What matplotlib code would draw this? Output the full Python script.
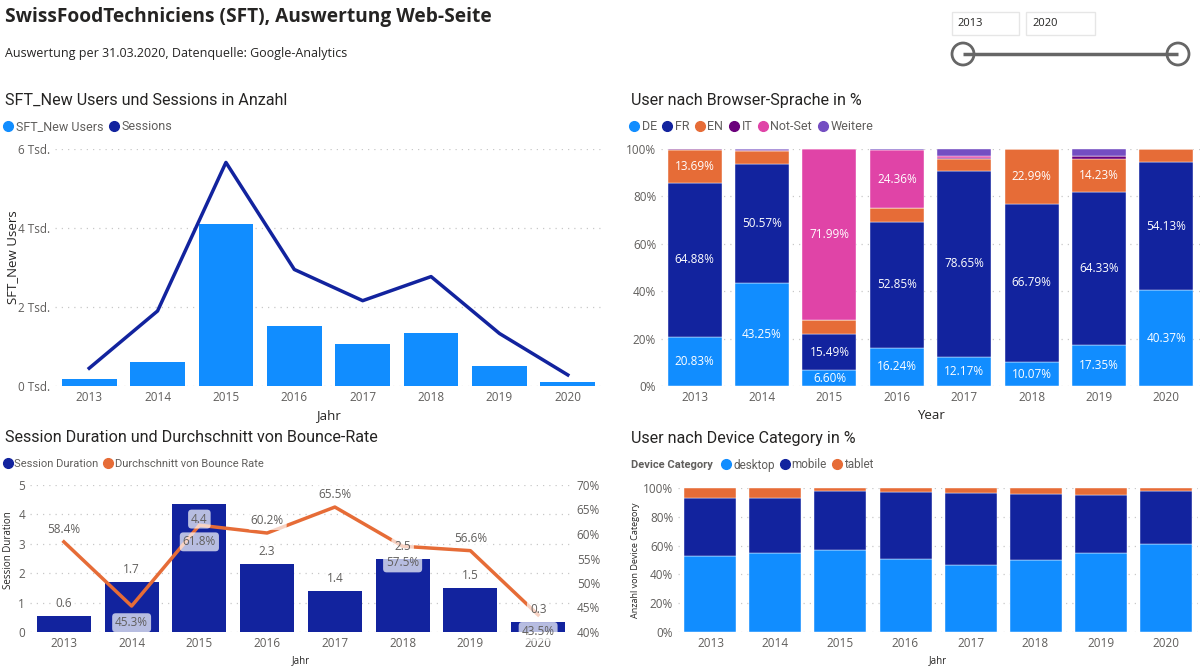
import matplotlib.pyplot as plt
from matplotlib.lines import Line2D
from matplotlib.patches import Rectangle, Circle
import numpy as np

# --- Daten ---
jahre = ['2013', '2014', '2015', '2016', '2017', '2018', '2019', '2020']

new_users = [170, 615, 4090, 1530, 1060, 1330, 510, 110]
sessions = [450, 1900, 5660, 2950, 2160, 2770, 1330, 280]

sprachen = ['DE', 'FR', 'EN', 'IT', 'Not-Set', 'Weitere']
de = [20.83, 43.25, 6.60, 16.24, 12.17, 10.07, 17.35, 40.37]
fr = [64.88, 50.57, 15.49, 52.85, 78.65, 66.79, 64.33, 54.13]
en = [13.69, 5.30, 5.92, 6.00, 4.80, 22.99, 14.23, 5.50]
it = [0.40, 0.50, 0.00, 0.00, 0.40, 0.10, 1.30, 0.00]
not_set = [0.00, 0.00, 71.99, 24.36, 1.20, 0.00, 0.00, 0.00]
weitere = [0.20, 0.38, 0.00, 0.55, 2.78, 0.05, 2.79, 0.00]

session_duration = [0.56, 1.69, 4.36, 2.30, 1.39, 2.47, 1.50, 0.33]
bounce_rate = [58.4, 45.3, 61.8, 60.2, 65.5, 57.5, 56.6, 43.5]

devices = ['desktop', 'mobile', 'tablet']
desktop = [53.1, 54.9, 56.8, 50.8, 46.2, 49.7, 55.2, 60.9]
mobile = [40.2, 38.4, 41.1, 46.7, 50.4, 46.2, 39.7, 36.8]
tablet = [6.7, 6.7, 2.1, 2.5, 3.4, 4.1, 5.1, 2.3]

# Power BI Farben
C_HELL = '#118DFF'
C_DUNKEL = '#12239E'
C_ORANGE = '#E66C37'
C_IT = '#6B007B'
C_PINK = '#E044A7'
C_LILA = '#744EC2'
C_TEXT = '#252423'
C_TICK = '#605E5C'

plt.rcParams['font.family'] = ['Open Sans', 'DejaVu Sans']
TITEL_FONT = ['Roboto', 'DejaVu Sans']

W, H = 1200, 670
fig = plt.figure(figsize=(12, 6.7), dpi=100)
fig.patch.set_facecolor('white')


def px_axes(x0, y0, x1, y1):
    return fig.add_axes([x0 / W, 1 - y1 / H, (x1 - x0) / W, (y1 - y0) / H])


def ftext(x, y, s, **kw):
    fig.text(x / W, 1 - y / H, s, va='center', **kw)


def style_axes(ax, gridfarbe='#C8C8C8'):
    for sp in ax.spines.values():
        sp.set_visible(False)
    ax.tick_params(length=0, labelsize=8.5, labelcolor=C_TICK)
    ax.yaxis.grid(True, linestyle=(0, (1, 4)), color=gridfarbe, linewidth=0.9)
    ax.set_axisbelow(True)


def legende(x, y, namen, farben, size=9):
    handles = [Line2D([], [], marker='o', linestyle='', markersize=7,
                      markerfacecolor=f, markeredgecolor=f) for f in farben]
    fig.legend(handles, namen, loc='center left',
               bbox_to_anchor=(x / W, 1 - y / H), ncol=len(namen), frameon=False,
               handlelength=0.5, handletextpad=0.35, columnspacing=0.6,
               borderpad=0, borderaxespad=0, prop={'family': TITEL_FONT, 'size': size},
               labelcolor=C_TICK)


# --- Kopf ---
ftext(5, 17, 'SwissFoodTechniciens (SFT), Auswertung Web-Seite',
      fontsize=13.8, fontweight='bold', color=C_TEXT)
ftext(5, 53, 'Auswertung per 31.03.2020, Datenquelle: Google-Analytics',
      fontsize=9, color=C_TEXT)

# Slider oben rechts
deko = fig.add_axes([0, 0, 1, 1], zorder=5)
deko.set_xlim(0, W)
deko.set_ylim(H, 0)
deko.axis('off')
deko.add_patch(Rectangle((952, 12), 67, 23, facecolor='white', edgecolor='#E6E6E6', lw=1))
deko.add_patch(Rectangle((1026, 12), 69, 23, facecolor='white', edgecolor='#E6E6E6', lw=1))
deko.text(957, 24, '2013', fontsize=8, color=C_TEXT, va='center')
deko.text(1032, 24, '2020', fontsize=8, color=C_TEXT, va='center')
deko.plot([963, 1178], [54, 54], color='#666666', lw=2.5, solid_capstyle='butt')
for cx in (963, 1178):
    deko.add_patch(Circle((cx, 54), 11, facecolor='white', edgecolor='#666666', lw=2))

x = np.arange(len(jahre))

# --- Chart 1: New Users und Sessions ---
ftext(5, 100, 'SFT_New Users und Sessions in Anzahl', fontsize=11.6,
      color=C_TEXT, family=TITEL_FONT)
legende(5, 127, ['SFT_New Users', 'Sessions'], [C_HELL, C_DUNKEL])

ax1 = px_axes(55, 149, 602, 386)
style_axes(ax1)
ax1.bar(x, new_users, width=0.8, color=C_HELL, zorder=2)
ax1.plot(x, sessions, color=C_DUNKEL, lw=2.5, zorder=3)
ax1.set_xlim(-0.5, 7.5)
ax1.set_ylim(0, 6000)
ax1.set_xticks(x, jahre)
ax1.set_yticks([0, 2000, 4000, 6000], ['0 Tsd.', '2 Tsd.', '4 Tsd.', '6 Tsd.'])
ax1.set_xlabel('Jahr', fontsize=9.5, color=C_TEXT, labelpad=4)
ftext(13, 257, 'SFT_New Users', fontsize=9.5, color=C_TEXT, rotation=90, ha='center')

# --- Chart 2: Browser-Sprache ---
ftext(631, 100, 'User nach Browser-Sprache in %', fontsize=11.6,
      color=C_TEXT, family=TITEL_FONT)
sprach_farben = [C_HELL, C_DUNKEL, C_ORANGE, C_IT, C_PINK, C_LILA]
legende(631, 127, sprachen, sprach_farben)

ax2 = px_axes(661, 149, 1200, 386)
style_axes(ax2)
unten = np.zeros(len(jahre))
for werte, farbe in zip([de, fr, en, it, not_set, weitere], sprach_farben):
    werte = np.array(werte)
    ax2.bar(x, werte, bottom=unten, width=0.8, color=farbe, zorder=2,
            edgecolor='white', linewidth=0.3)
    for i, v in enumerate(werte):
        if v >= 6.5:
            ax2.text(x[i], unten[i] + v / 2, f'{v:.2f}%', ha='center', va='center',
                     color='white', fontsize=8.5, zorder=4)
    unten += werte
ax2.set_xlim(-0.5, 7.5)
ax2.set_ylim(0, 100)
ax2.set_xticks(x, jahre)
ax2.set_yticks(range(0, 101, 20), [f'{v}%' for v in range(0, 101, 20)])
ax2.set_xlabel('Year', fontsize=9.5, color=C_TEXT, labelpad=4)

# --- Chart 3: Session Duration und Bounce-Rate ---
ftext(5, 437, 'Session Duration und Durchschnitt von Bounce-Rate', fontsize=11.6,
      color=C_TEXT, family=TITEL_FONT)
legende(5, 464, ['Session Duration', 'Durchschnitt von Bounce Rate'],
        [C_DUNKEL, C_ORANGE], size=8)

ax3 = px_axes(30, 485, 572, 632)
style_axes(ax3)
ax3.bar(x, session_duration, width=0.8, color=C_DUNKEL, zorder=2)
ax3.set_xlim(-0.5, 7.5)
ax3.set_ylim(0, 5)
ax3.set_xticks(x, jahre)
ax3.set_yticks(range(0, 6))
ax3.set_xlabel('Jahr', fontsize=7, color=C_TEXT, labelpad=4)
ftext(9, 550, 'Session Duration', fontsize=7, color=C_TEXT, rotation=90, ha='center')

ax3b = ax3.twinx()
for sp in ax3b.spines.values():
    sp.set_visible(False)
ax3b.tick_params(length=0, labelsize=8.5, labelcolor=C_TICK)
ax3b.plot(x, bounce_rate, color=C_ORANGE, lw=2.5, zorder=3)
ax3b.set_ylim(40, 70)
ax3b.set_yticks(range(40, 71, 5), [f'{v}%' for v in range(40, 71, 5)])

box = dict(boxstyle='round,pad=0.25,rounding_size=0.3', facecolor='white',
           edgecolor='none', alpha=0.7)
for i, (d, b) in enumerate(zip(session_duration, bounce_rate)):
    # Wert der Linie in Einheiten der linken Achse
    b_links = (b - 40) / 30 * 5
    if b_links - d < 0.8:
        dy = -12
    else:
        dy = 9
    ax3b.annotate(f'{b:.1f}%', (x[i], b), xytext=(0, dy), textcoords='offset points',
                  ha='center', va='center', fontsize=8.5, color=C_TICK,
                  bbox=box, zorder=5)
    if d > 4:
        dy = -11
    else:
        dy = 9
    ax3b.annotate(f'{d:.1f}', (x[i], (d / 5) * 30 + 40), xytext=(0, dy),
                  textcoords='offset points', ha='center', va='center',
                  fontsize=8.5, color=C_TICK, bbox=box, zorder=5)

# --- Chart 4: Device Category ---
ftext(631, 438, 'User nach Device Category in %', fontsize=11.6,
      color=C_TEXT, family=TITEL_FONT)
ftext(631, 465, 'Device Category', fontsize=8, fontweight='bold',
      color=C_TICK, family=TITEL_FONT)
legende(723, 465, devices, [C_HELL, C_DUNKEL, C_ORANGE], size=8.5)

ax4 = px_axes(678, 488, 1198, 632)
style_axes(ax4)
unten = np.zeros(len(jahre))
for werte, farbe in zip([desktop, mobile, tablet], [C_HELL, C_DUNKEL, C_ORANGE]):
    werte = np.array(werte)
    ax4.bar(x, werte, bottom=unten, width=0.8, color=farbe, zorder=2,
            edgecolor='white', linewidth=0.3)
    unten += werte
ax4.set_xlim(-0.5, 7.5)
ax4.set_ylim(0, 100)
ax4.set_xticks(x, jahre)
ax4.set_yticks(range(0, 101, 20), [f'{v}%' for v in range(0, 101, 20)])
ax4.set_xlabel('Jahr', fontsize=7, color=C_TEXT, labelpad=4)
ftext(636, 560, 'Anzahl von Device Category', fontsize=6.5, color=C_TEXT,
      rotation=90, ha='center')

fig.savefig('out.png', dpi=100)
